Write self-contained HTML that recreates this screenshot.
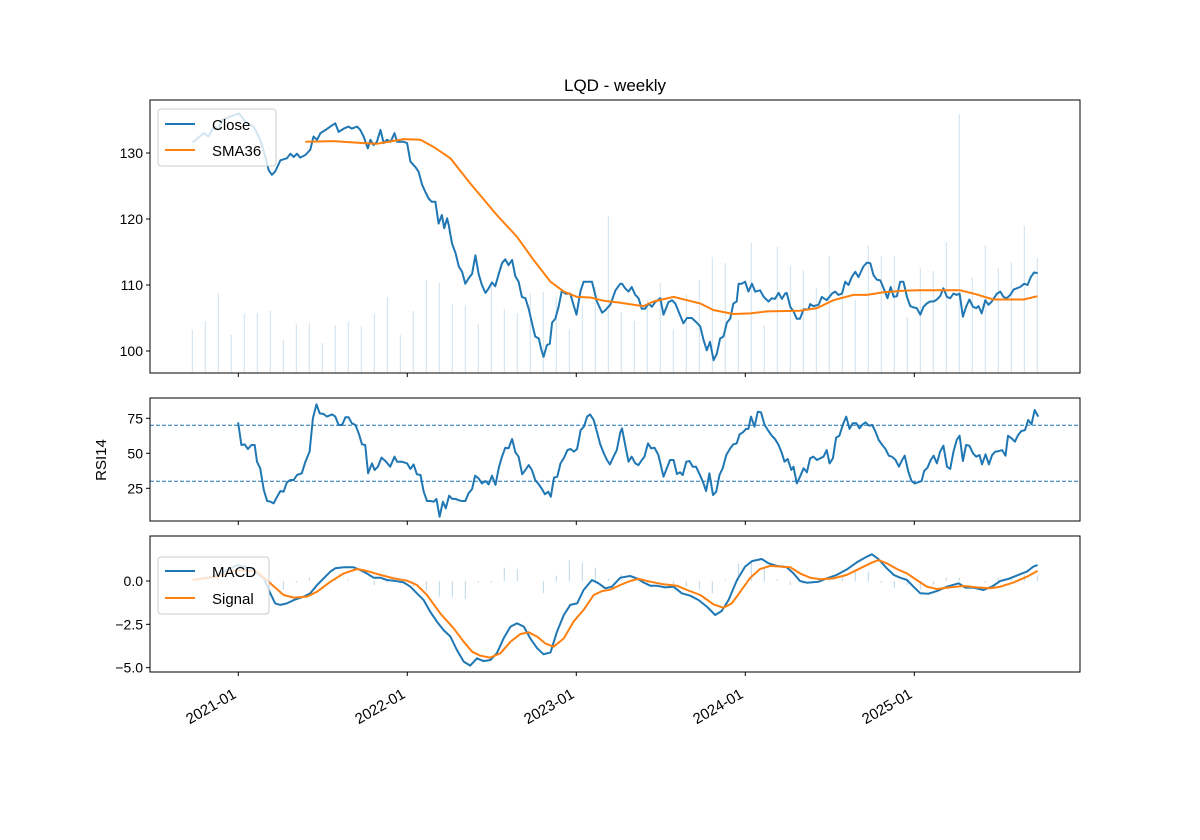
<!DOCTYPE html>
<html><head><meta charset="utf-8"><style>
html,body{margin:0;padding:0;background:#fff;}
svg{display:block;font-family:"Liberation Sans","DejaVu Sans",sans-serif;}
</style></head><body>
<svg id="chart" width="1200" height="840" viewBox="0 0 1200 840" xmlns="http://www.w3.org/2000/svg">
<rect width="1200" height="840" fill="#fff"/>
<text x="615" y="91" font-size="17" text-anchor="middle" fill="#000">LQD - weekly</text>
<g id="vol"></g>
<g id="main"></g>
<g id="rsi"></g>
<g id="macd"></g>
<g id="frames"></g>
<g>
<rect x="158" y="109" width="118" height="57" rx="3" fill="#fff" fill-opacity="0.8" stroke="#ccc"/>
<line x1="165" y1="124" x2="195" y2="124" stroke="#1f77b4" stroke-width="2"/>
<text x="212" y="130" font-size="15">Close</text>
<line x1="165" y1="150" x2="195" y2="150" stroke="#ff7f0e" stroke-width="2"/>
<text x="212" y="156" font-size="15">SMA36</text>
</g>
<g>
<rect x="158" y="557" width="111" height="57" rx="3" fill="#fff" fill-opacity="0.8" stroke="#ccc"/>
<line x1="165" y1="571" x2="195" y2="571" stroke="#1f77b4" stroke-width="2"/>
<text x="212" y="577" font-size="15">MACD</text>
<line x1="165" y1="598" x2="195" y2="598" stroke="#ff7f0e" stroke-width="2"/>
<text x="212" y="604" font-size="15">Signal</text>
</g>
<text transform="translate(106,460) rotate(-90)" font-size="15" text-anchor="middle">RSI14</text>
</svg>
<script>
// time unit: weeks since start (2020-09-25)
const xTickWeeks = [14.15, 66.15, 118.15, 170.15, 222.15];
const xTickLabels = ["2021-01", "2022-01", "2023-01", "2024-01", "2025-01"];
const priceTicks = [100, 110, 120, 130];
const rsiTicks = [25, 50, 75];
const rsiLevels = [70, 30];
const macdTicks = [0.0, -2.5, -5.0];
const macdTickLabels = ["0.0", "\u22122.5", "\u22125.0"];

const closeW = [0.1,3.5,5.0,6.6,8.1,9.1,11.7,14.3,16.8,18.9,20.9,22.5,23.5,24.5,25.5,27.1,29.1,30.2,31.2,32.2,33.2,34.8,36.3,37.3,38.4,39.4,41.0,43.0,44.0,45.0,46.6,48.1,49.1,50.7,51.7,52.7,54.0,54.8,55.8,56.8,57.9,58.9,59.9,61.0,62.2,63.0,65.0,66.1,67.1,68.6,69.6,70.7,71.7,72.7,73.7,74.8,75.8,76.8,77.5,78.4,78.9,79.9,81.0,82.0,83.0,84.0,85.0,86.1,87.1,88.1,89.1,90.2,91.2,92.2,93.2,94.3,95.3,96.3,97.3,98.4,99.4,100.4,101.4,102.5,103.5,104.5,105.5,106.6,107.3,108.1,109.1,110.0,110.7,111.7,112.7,113.7,114.8,116.3,117.3,118.2,119.4,120.4,121.4,123.0,124.5,126.1,127.1,128.6,130.2,131.7,132.2,133.2,134.2,135.2,136.3,137.3,138.3,139.3,140.4,141.4,142.4,144.0,145.0,146.5,147.6,148.6,149.6,151.1,152.2,153.7,155.2,156.3,157.3,158.3,159.3,160.4,161.4,162.4,163.4,164.5,165.5,166.5,167.5,168.1,169.1,170.1,171.1,172.2,173.2,174.7,175.8,177.3,178.3,179.3,180.4,181.4,182.4,182.9,184.0,185.0,186.0,187.0,188.1,189.6,190.1,191.1,192.7,193.7,195.2,196.8,197.8,198.8,199.9,200.9,201.9,202.9,204.0,205.0,206.5,207.6,208.6,209.6,210.6,211.7,212.7,213.9,214.9,215.8,216.8,217.8,218.8,219.9,220.9,221.9,222.9,224.0,225.0,226.0,227.0,228.1,229.1,230.1,231.1,232.2,233.2,234.2,235.2,236.1,237.1,238.1,239.1,240.2,241.2,241.9,242.9,244.0,245.0,246.0,247.6,248.6,249.6,250.6,251.7,252.7,253.7,254.7,256.0,257.0,258.0,259.0,260.1];
const closeV = [131.6,133.0,132.5,134.0,133.5,135.0,135.5,136.0,134.5,134.0,132.0,129.4,127.4,126.7,127.2,128.9,129.2,129.9,129.4,129.9,129.3,129.7,130.5,132.5,132.0,133.0,133.5,134.2,134.5,133.2,133.7,134.0,133.7,134.0,133.5,132.5,130.7,132.0,131.2,131.7,133.5,131.5,132.0,131.7,133.0,131.7,131.7,131.5,128.7,127.9,127.2,125.2,124.1,123.1,122.6,122.6,119.3,120.6,118.6,120.1,119.1,116.3,114.8,112.8,112.0,110.2,111.0,111.7,114.5,111.7,110.0,108.8,109.5,110.4,109.8,111.7,113.3,113.9,113.0,113.8,111.3,110.5,108.2,108.0,106.4,104.3,102.2,101.9,100.4,99.1,100.9,101.1,104.3,104.9,106.7,109.1,108.7,108.7,107.0,105.5,109.0,110.5,110.5,110.5,107.5,105.8,106.2,107.0,109.2,110.2,110.2,109.5,109.0,109.7,108.5,108.0,106.4,106.4,107.2,106.7,107.4,108.0,105.5,107.4,107.7,107.2,106.0,104.2,105.0,105.0,104.3,103.7,101.7,100.1,101.4,98.6,99.6,101.9,102.2,104.3,104.9,107.2,107.5,110.2,110.2,110.5,109.0,110.2,109.0,109.2,108.2,107.5,108.0,107.9,108.8,107.9,108.7,108.8,106.7,106.0,104.9,104.9,106.3,106.3,107.1,106.8,107.0,108.2,107.7,108.7,109.0,108.5,108.7,110.5,110.0,111.2,112.0,111.2,112.8,113.4,113.3,111.5,110.8,110.7,109.5,108.0,109.7,108.2,108.3,110.5,110.5,108.2,106.8,106.6,106.5,105.5,106.7,107.2,107.5,107.5,107.8,108.3,109.5,108.2,108.0,108.7,108.5,108.7,105.2,106.7,107.8,106.7,106.5,106.8,105.7,107.7,107.0,107.5,108.7,109.0,108.2,108.0,108.5,109.3,109.5,109.7,110.2,110.0,111.2,111.9,111.8];

const smaW = [34.8,43.5,52.7,56.8,65.0,70.2,74.3,79.4,85.5,93.7,99.9,105.0,110.2,114.3,118.4,122.5,126.6,131.7,135.8,138.8,141.9,148.1,152.2,156.3,160.4,166.5,171.7,176.8,187.0,192.2,197.3,203.4,207.6,212.7,217.8,222.9,236.3,240.4,246.5,255.8,260.1];
const smaV = [131.7,131.8,131.5,131.4,132.1,132.0,130.9,129.2,125.4,120.6,117.3,113.8,110.5,109.0,108.2,108.1,107.6,107.3,107.0,106.8,107.5,108.2,107.7,107.2,106.2,105.6,105.7,106.0,106.1,106.5,107.7,108.5,108.5,108.9,109.1,109.2,109.2,108.7,107.8,107.8,108.3];

const volume = [43,52,80,38,59,60,62,33,49,50,30,48,51,47,59,76,38,62,93,90,69,67,49,88,64,60,80,81,76,43,68,86,157,61,52,73,90,43,79,93,116,110,53,130,48,126,107,103,85,117,80,73,128,117,117,56,105,102,131,259,96,128,105,111,147,115];

const rsiW = [14.1,15.1,16.1,17.1,18.2,19.2,19.9,20.9,22.0,23.0,24.1,25.0,26.1,27.1,28.1,29.1,30.2,31.2,32.2,33.7,34.8,36.1,37.1,38.2,39.2,40.4,41.4,43.0,44.0,45.0,46.1,47.1,48.1,49.1,50.2,51.2,52.2,53.2,54.1,55.3,56.1,57.1,58.2,59.4,60.9,62.2,63.0,64.5,66.1,67.1,68.1,69.1,70.2,71.2,72.2,73.2,74.3,75.1,76.1,77.1,78.0,79.0,80.0,81.0,82.0,83.0,84.0,85.0,86.1,87.0,88.1,89.1,90.2,91.2,92.2,93.3,94.3,95.3,96.3,97.3,98.4,99.4,100.4,101.5,102.5,103.5,104.5,105.5,106.6,107.6,108.5,109.5,110.3,111.3,112.3,113.3,114.4,115.4,116.4,117.4,118.4,119.5,120.5,121.5,122.4,123.5,124.5,125.5,126.6,127.6,128.5,129.6,130.6,131.7,132.2,133.2,134.2,135.2,136.3,137.3,138.3,139.1,140.2,141.2,142.2,143.4,145.0,146.0,147.0,148.1,149.1,150.1,150.9,152.0,153.0,154.0,155.0,156.1,157.1,158.1,159.1,160.2,161.2,162.2,163.2,164.3,165.5,166.5,167.5,168.4,169.4,170.4,171.1,171.9,173.0,174.0,175.0,176.1,177.3,178.3,179.3,180.4,181.4,182.2,183.2,184.3,185.0,186.0,187.0,188.1,189.1,190.1,191.1,192.2,193.2,194.2,195.2,196.1,197.1,198.1,199.1,200.2,201.2,202.2,203.2,204.3,205.3,206.3,207.1,208.2,209.2,210.2,211.2,212.3,213.3,214.3,215.3,216.4,217.4,218.4,219.2,220.3,221.3,222.3,223.3,224.4,225.2,226.2,227.2,228.1,229.1,230.1,231.1,232.2,233.2,234.2,235.2,236.1,237.1,238.1,239.1,240.2,241.2,242.2,243.0,244.1,245.1,246.1,247.1,248.2,249.2,250.2,251.0,252.1,253.1,254.1,255.1,256.2,257.2,258.2,259.2,260.3];
const rsiV = [72.1,55.9,56.4,53.1,55.9,55.9,44.0,39.3,23.8,15.9,15.4,14.2,19.0,23.1,22.6,29.3,30.9,30.9,34.5,35.7,44.0,51.2,75.0,85.0,78.5,78.1,76.2,77.8,76.2,70.2,70.2,75.7,75.7,71.4,70.2,64.3,56.4,55.9,35.7,42.8,38.1,40.4,46.9,44.5,40.4,47.6,44.0,44.0,42.8,38.8,42.1,35.0,34.5,22.6,15.9,15.9,15.4,17.4,4.7,15.4,10.7,19.7,17.4,17.4,16.4,15.9,15.9,21.4,24.5,34.0,32.1,28.5,30.2,27.8,34.0,27.4,39.7,47.6,54.0,53.5,60.2,50.7,47.6,35.0,38.1,41.6,38.1,30.9,27.8,24.5,20.7,22.6,19.0,32.6,33.3,42.8,46.9,52.3,53.1,51.2,53.1,66.6,69.0,76.2,77.8,73.8,65.5,56.4,50.0,45.2,42.1,47.6,52.3,65.0,67.8,55.9,44.0,47.6,42.8,41.6,45.2,47.6,57.1,53.5,54.0,48.8,33.3,39.3,45.2,45.2,35.2,36.4,34.5,44.0,44.5,40.4,40.4,35.0,29.7,23.1,35.7,20.2,22.6,34.5,39.3,48.8,53.5,56.4,57.1,63.5,65.0,67.4,67.4,76.2,69.0,79.7,79.3,70.2,65.9,62.6,60.2,55.9,50.0,44.0,45.9,38.1,40.4,28.5,33.3,39.3,36.4,46.4,47.6,45.2,46.4,47.6,52.3,42.8,46.4,61.2,62.6,70.7,76.2,67.4,71.4,71.4,67.8,70.7,72.1,69.7,70.2,65.5,59.5,55.9,53.1,48.3,47.6,45.2,40.4,45.2,48.3,36.9,30.2,28.5,29.3,30.2,37.4,39.7,45.2,48.3,42.8,51.2,55.4,40.4,38.8,51.2,59.5,62.6,44.5,55.9,55.4,50.0,47.6,48.8,42.1,49.3,42.1,48.8,51.2,51.6,52.3,48.3,62.6,60.7,58.3,63.1,65.9,66.6,73.8,70.7,80.9,76.2];

const macdW = [0.1,6.6,13.7,17.9,22.0,24.0,25.5,27.1,29.1,31.2,34.3,36.3,38.4,40.4,42.5,44.0,46.6,49.6,51.7,53.7,55.8,57.9,59.9,62.0,65.0,67.1,69.1,71.2,73.2,75.3,77.3,79.4,81.4,83.5,85.5,87.6,89.6,91.7,93.7,95.8,97.9,99.9,102.0,104.0,106.1,108.1,110.2,112.2,114.3,116.3,118.4,120.4,123.0,125.0,127.1,129.1,131.7,134.7,136.8,138.8,140.9,142.9,145.5,148.1,150.6,153.2,155.8,158.3,160.9,162.9,165.0,167.6,170.1,172.2,175.2,177.3,179.9,182.9,185.0,187.0,189.1,192.7,195.2,198.3,201.4,204.5,207.0,209.1,211.1,213.7,215.8,217.8,219.9,221.9,224.0,226.5,229.1,232.2,235.8,237.8,240.4,243.4,246.0,248.6,251.1,253.7,256.8,258.8,260.1];
const macdV = [0.06,0.25,0.92,0.73,0.15,-0.71,-1.29,-1.38,-1.29,-1.10,-0.90,-0.71,-0.23,0.15,0.54,0.73,0.79,0.79,0.63,0.44,0.19,0.19,0.06,0.02,-0.08,-0.33,-0.71,-1.10,-1.77,-2.35,-2.83,-3.21,-3.98,-4.65,-4.88,-4.46,-4.62,-4.56,-4.17,-3.31,-2.63,-2.44,-2.63,-3.31,-3.88,-4.23,-4.12,-2.92,-1.96,-1.38,-1.29,-0.52,0.06,-0.13,-0.42,-0.33,0.19,0.29,0.15,-0.08,-0.27,-0.27,-0.37,-0.33,-0.71,-0.85,-1.10,-1.48,-1.96,-1.73,-1.10,0.06,0.83,1.15,1.27,1.02,0.87,0.79,0.44,0.0,-0.10,-0.04,0.15,0.35,0.67,1.08,1.35,1.54,1.27,0.73,0.35,0.19,0.06,-0.33,-0.71,-0.73,-0.58,-0.33,-0.13,-0.38,-0.38,-0.52,-0.33,0.0,0.12,0.31,0.54,0.83,0.92];

const signalW = [0.1,7.6,13.7,19.9,24.0,28.1,31.2,35.3,38.4,42.5,46.6,50.7,53.7,57.9,62.0,66.1,69.1,72.2,76.3,80.4,83.5,86.1,88.6,91.7,94.8,97.9,101.0,103.5,106.1,108.6,111.2,114.3,117.3,120.4,123.5,126.1,128.6,131.7,134.7,137.3,140.9,145.0,149.1,152.2,156.3,160.4,163.4,166.0,168.6,171.7,174.7,177.8,184.0,187.0,190.1,193.2,197.3,201.4,205.5,208.6,211.1,213.7,216.8,219.9,222.9,226.0,229.1,233.2,237.3,241.4,245.5,248.6,252.7,256.8,260.1];
const signalV = [0.06,0.25,0.63,0.54,-0.13,-0.81,-0.96,-0.90,-0.62,-0.04,0.44,0.69,0.58,0.35,0.15,0.02,-0.23,-0.81,-1.87,-2.73,-3.50,-4.08,-4.31,-4.42,-4.17,-3.50,-3.06,-2.96,-3.21,-3.60,-3.79,-3.31,-2.35,-1.67,-0.81,-0.58,-0.50,-0.23,0.0,0.12,-0.04,-0.19,-0.27,-0.52,-0.81,-1.35,-1.54,-1.29,-0.62,0.19,0.69,0.87,0.79,0.44,0.19,0.10,0.15,0.35,0.73,1.02,1.21,1.02,0.69,0.44,0.06,-0.33,-0.46,-0.37,-0.29,-0.37,-0.42,-0.33,-0.08,0.25,0.58];

const histogram = [0,0,0.1,0.2,0.1,0.05,-0.2,-0.5,-0.1,0.2,0.1,0.2,0.1,0,-0.25,-0.1,-0.1,-0.3,-0.6,-0.9,-0.9,-1.05,-0.1,-0.1,0.77,0.7,0,-0.7,0.3,1.2,1.06,0.77,0.15,0.38,0.2,-0.13,-0.04,-0.2,-0.3,-0.45,-0.7,0.06,1.0,1.08,0.83,0.1,-0.23,-0.2,0,0.2,0.35,0.54,0.54,-0.13,-0.42,-0.23,-0.5,-0.2,0.2,0.2,0,-0.13,0.2,0.25,0.35,0.3];
const barStepWeeks = 4;

const NS = "http://www.w3.org/2000/svg";
const X0 = 150, X1 = 1080;
function xW(w){ return 192.3 + w * 3.25; }
function yPrice(v){ return 351 - (v - 100) * 6.6; }
function yVol(v){ return 373 - v; }
function yRsi(v){ return 453.3 - (v - 50) * 1.4; }
function yMacd(v){ return 581 - v * 17.33; }
function mk(tag, attrs, parent){ const e = document.createElementNS(NS, tag); for (const k in attrs) e.setAttribute(k, attrs[k]); parent.appendChild(e); return e; }
function pathD(ws, vs, yf){ return ws.map((w,i)=>(i?"L":"M")+xW(w).toFixed(1)+","+yf(vs[i]).toFixed(1)).join(""); }

const gVol = document.getElementById("vol");
volume.forEach((v,i)=>{
  const l = mk("line", {x1:xW(i*barStepWeeks), x2:xW(i*barStepWeeks), y1:373, y2:yVol(v), stroke:"#1f77b4", "stroke-opacity":"0.22", "stroke-width":"1"}, gVol);
  
  
});

const gMain = document.getElementById("main");
let p = mk("path", {d:pathD(closeW, closeV, yPrice), fill:"none", stroke:"#1f77b4", "stroke-width":"2", "stroke-linejoin":"round"}, gMain);


p = mk("path", {d:pathD(smaW, smaV, yPrice), fill:"none", stroke:"#ff7f0e", "stroke-width":"2", "stroke-linejoin":"round"}, gMain);



const gRsi = document.getElementById("rsi");
rsiLevels.forEach(l=>{
  const e = mk("line", {x1:X0, x2:X1, y1:yRsi(l), y2:yRsi(l), stroke:"#1f77b4", "stroke-width":"1", "stroke-dasharray":"4,2"}, gRsi);
  
  
});
p = mk("path", {d:pathD(rsiW, rsiV, yRsi), fill:"none", stroke:"#1f77b4", "stroke-width":"2", "stroke-linejoin":"round"}, gRsi);



const gMacd = document.getElementById("macd");
histogram.forEach((v,i)=>{
  const l = mk("line", {x1:xW(i*barStepWeeks), x2:xW(i*barStepWeeks), y1:yMacd(0), y2:yMacd(v), stroke:"#1f77b4", "stroke-opacity":"0.3", "stroke-width":"1"}, gMacd);
  
  
});
p = mk("path", {d:pathD(macdW, macdV, yMacd), fill:"none", stroke:"#1f77b4", "stroke-width":"2", "stroke-linejoin":"round"}, gMacd);


p = mk("path", {d:pathD(signalW, signalV, yMacd), fill:"none", stroke:"#ff7f0e", "stroke-width":"2", "stroke-linejoin":"round"}, gMacd);



const gF = document.getElementById("frames");
[[100,373,"price-axes-frame"],[398,521,"rsi-axes-frame"],[536,672,"macd-axes-frame"]].forEach(a=>{
  const r = mk("rect", {x:X0, y:a[0], width:X1-X0, height:a[1]-a[0], fill:"none", stroke:"#000", "stroke-width":"1"}, gF);
  
  
  xTickWeeks.forEach(w=>{
    const t = mk("line", {x1:xW(w), x2:xW(w), y1:a[1], y2:a[1]+4, stroke:"#000"}, gF);
    
    
  });
});
function yTick(y, label){
  const t = mk("line", {x1:X0-4, x2:X0, y1:y, y2:y, stroke:"#000"}, gF);
  
  
  const tx = mk("text", {x:X0-7, y:y+5, "font-size":"14", "text-anchor":"end"}, gF);
  tx.textContent = label;
  
  
}
priceTicks.forEach(v=>yTick(yPrice(v), String(v)));
rsiTicks.forEach(v=>yTick(yRsi(v), String(v)));
macdTicks.forEach((v,i)=>yTick(yMacd(v), macdTickLabels[i]));
xTickWeeks.forEach((w,i)=>{
  const x = xW(w);
  const t = mk("text", {x:0, y:0, "font-size":"15", "text-anchor":"end", transform:`translate(${x-1},${697}) rotate(-30)`}, gF);
  t.textContent = xTickLabels[i];
  
  
});
</script>
</body></html>
